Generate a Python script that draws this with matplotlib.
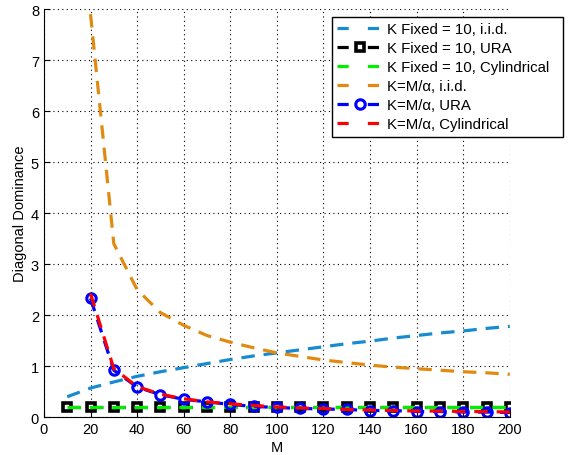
import matplotlib
matplotlib.use("Agg")
import matplotlib.pyplot as plt

plt.rcParams['font.family'] = ['Liberation Sans', 'DejaVu Sans']

M_fixed = [10, 20, 30, 40, 50, 60, 70, 80, 90, 100, 110, 120, 130, 140, 150, 160, 170, 180, 190, 200]
M_var = [20, 30, 40, 50, 60, 70, 80, 90, 100, 110, 120, 130, 140, 150, 160, 170, 180, 190, 200]

fixed_iid = [0.40, 0.57, 0.69, 0.80, 0.89, 0.97, 1.05, 1.13, 1.20, 1.26, 1.32, 1.38, 1.44, 1.49, 1.55, 1.60, 1.65, 1.69, 1.74, 1.78]
fixed_ura = [0.20] * 20
fixed_cyl = [0.19] * 20
var_iid = [7.90, 3.40, 2.50, 2.05, 1.80, 1.60, 1.47, 1.36, 1.26, 1.19, 1.12, 1.07, 1.02, 0.98, 0.95, 0.92, 0.89, 0.87, 0.84]
var_ura = [2.33, 0.92, 0.59, 0.44, 0.35, 0.30, 0.25, 0.21, 0.19, 0.17, 0.16, 0.15, 0.13, 0.13, 0.11, 0.11, 0.10, 0.10, 0.09]
var_cyl = [2.42, 0.95, 0.60, 0.45, 0.36, 0.30, 0.26, 0.23, 0.20, 0.18, 0.17, 0.15, 0.14, 0.13, 0.12, 0.12, 0.11, 0.11, 0.10]

labels = ['K Fixed = 10, i.i.d.', 'K Fixed = 10, URA', 'K Fixed = 10, Cylindrical  ',
          'K=M/α, i.i.d.', 'K=M/α, URA', 'K=M/α, Cylindrical']

fig = plt.figure(figsize=(5.78, 4.56), dpi=100)
ax = fig.add_axes([0.076, 0.083, 0.806, 0.895])

lw = 2.3
ds = (4.2, 2.8)
ax.plot(M_fixed, fixed_iid, '--', color='#168bcf', lw=lw, dashes=ds, label=labels[0])
ax.plot(M_fixed, fixed_ura, '--', color='black', lw=lw, dashes=ds, marker='s', ms=5.5,
        mfc='white', mec='black', mew=2.6, label=labels[1])
ax.plot(M_fixed, fixed_cyl, '--', color='#00ee00', lw=lw, dashes=ds, label=labels[2])
ax.plot(M_var, var_iid, '--', color='#e08a10', lw=lw, dashes=ds, label=labels[3])
ax.plot(M_var, var_ura, '--', color='#0000ff', lw=lw, dashes=ds, marker='o', ms=6.8,
        mfc='none', mec='#0000ff', mew=2.2, label=labels[4])
ax.plot(M_var, var_cyl, '--', color='#ff0000', lw=lw, dashes=ds, label=labels[5])

ax.set_xlim(0, 200)
ax.set_ylim(0, 8)
ax.set_xticks(range(0, 201, 20))
ax.set_yticks(range(0, 9))
ax.grid(True, linestyle=(0, (1, 3)), color='black', lw=0.8)
ax.spines['top'].set_visible(False)
ax.spines['right'].set_visible(False)
ax.tick_params(direction='in', labelsize=10.5, length=4)
ax.set_xlabel('M', fontsize=10.5, labelpad=3)
ax.set_ylabel('Diagonal Dominance', fontsize=10.5, labelpad=3)

leg = fig.legend(loc='upper right', bbox_to_anchor=(0.974, 0.961), fontsize=10.8,
                 handlelength=3.0, numpoints=1, fancybox=False, edgecolor='black', framealpha=1,
                 borderpad=0.38, labelspacing=0.33, handletextpad=0.3, borderaxespad=0)
leg.get_frame().set_linewidth(1.0)
for h in leg.get_lines():
    h.set_dashes((3.5, 6.0))

fig.savefig('out.png', dpi=100)
